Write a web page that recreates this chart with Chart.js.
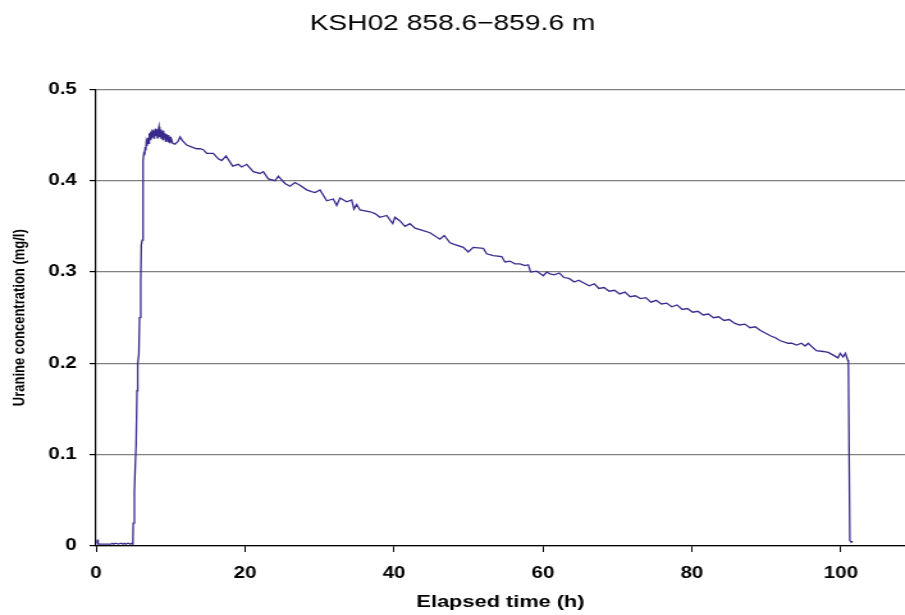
<!DOCTYPE html>
<html lang="en">
<head>
  <meta charset="UTF-8">
  <title>KSH02 858.6-859.6 m</title>
  <script src="https://cdn.jsdelivr.net/npm/chart.js"></script>
  <style>
    body {
      margin: 0;
      padding: 0;
      background: #fff;
      overflow: hidden;
    }

    /* the plot is drawn narrow and widened, so text comes out broad */
    .chart-wrap {
      width: 707px;
      height: 615px;
      transform: scaleX(1.28);
      transform-origin: 0 0;
    }
  </style>
</head>
<body>
  <div class="chart-wrap">
    <canvas id="chartCanvas" width="707" height="615"></canvas>
  </div>

  <script>
    // elapsed time (h)
    const times = [
      0.15, 0.2, 0.25, 0.3, 0.5, 1.0, 1.5, 2.0, 2.2, 2.4, 2.6, 3.0, 3.4, 3.6, 3.8, 4.0, 4.3, 4.6, 4.8, 4.95,
      5.0, 5.15, 5.3, 5.38, 5.5, 5.6, 5.75, 5.85, 6.0, 6.08, 6.2, 6.28, 6.35,
      6.45, 6.52, 6.6, 6.68, 6.75, 6.85, 6.95, 7.05, 7.15, 7.25, 7.35, 7.45, 7.55, 7.65, 7.75, 7.85, 7.95,
      8.05, 8.15, 8.25, 8.35, 8.45, 8.55, 8.65, 8.75, 8.85, 8.95, 9.05, 9.15, 9.25, 9.35, 9.45, 9.55,
      9.65, 9.75, 9.85, 9.95, 10.1, 10.3, 10.6, 11.0, 11.28, 11.6, 12.17, 12.8, 13.5,
      13.96, 14.40, 14.86, 15.74, 16.42, 16.87, 17.45, 18.35, 19.10, 19.56, 20.23, 21.11, 22.01, 22.46,
      23.13, 24.03, 24.47, 25.37, 26.04, 26.71, 27.38, 28.28, 28.95, 29.40, 30.07, 30.97, 31.85, 32.31,
      32.75, 33.65, 34.32, 34.63, 34.99, 35.44, 36.78, 37.45, 38.12, 39.02, 39.83, 40.13, 40.81, 41.48,
      42.15, 42.82, 43.72, 44.83, 46.17, 46.75, 47.52, 48.19, 49.30, 49.97, 50.64, 51.99, 52.44, 53.33,
      54.46, 54.90, 55.57, 56.24, 56.91, 57.58, 58.03, 58.35, 59.15, 60.04, 60.50, 60.94,
      61.5, 62.2, 62.8, 63.5, 64.2, 64.8, 65.5, 66.2, 66.9, 67.5, 68.2, 68.9, 69.6, 70.3, 71.0, 71.7,
      72.4, 73.1, 73.8, 74.5, 75.2, 75.9, 76.6, 77.3, 78.0, 78.7, 79.4, 80.1, 80.8, 81.5, 82.2, 82.9,
      83.6, 84.3, 85.0, 85.7, 86.4, 87.1, 87.8, 88.5, 89.2, 89.9, 90.6, 91.2,
      91.8, 92.9, 93.4, 94.05, 94.7, 95.2, 95.6, 96.7, 97.6, 98.3, 98.97, 99.6, 99.9, 100.3, 100.6,
      100.9, 101.0, 101.2, 101.4, 101.6
    ];

    // uranine concentration (mg/l)
    const conc = [
      0.003, 0.007, 0.004, 0.002, 0.002, 0.002, 0.002, 0.002, 0.003, 0.002, 0.003, 0.002, 0.003, 0.002, 0.003, 0.002, 0.003, 0.002, 0.003, 0.002,
      0.025, 0.06, 0.095, 0.11, 0.17, 0.2, 0.21, 0.25, 0.29, 0.33, 0.335, 0.36, 0.422,
      0.432, 0.428, 0.437, 0.433, 0.442, 0.438, 0.447, 0.441, 0.452, 0.445, 0.454, 0.447, 0.456, 0.448, 0.455, 0.446, 0.457,
      0.449, 0.456, 0.447, 0.455, 0.459, 0.448, 0.456, 0.446, 0.454, 0.445, 0.455, 0.447, 0.452, 0.443, 0.451, 0.444,
      0.450, 0.442, 0.448, 0.441, 0.446, 0.441, 0.440, 0.443, 0.448, 0.444, 0.439, 0.437, 0.435,
      0.435, 0.434, 0.430, 0.430, 0.424, 0.422, 0.427, 0.416, 0.418, 0.415, 0.418, 0.410, 0.408, 0.410,
      0.402, 0.400, 0.405, 0.397, 0.394, 0.398, 0.395, 0.390, 0.388, 0.387, 0.390, 0.378, 0.380, 0.373,
      0.381, 0.377, 0.379, 0.369, 0.374, 0.368, 0.366, 0.364, 0.360, 0.362, 0.353, 0.360, 0.356, 0.350,
      0.353, 0.348, 0.346, 0.343, 0.336, 0.340, 0.332, 0.330, 0.327, 0.322, 0.327, 0.326, 0.320, 0.318,
      0.317, 0.311, 0.312, 0.309, 0.309, 0.307, 0.308, 0.300, 0.301, 0.296, 0.300, 0.298,
      0.297, 0.299, 0.294, 0.293, 0.289, 0.291, 0.288, 0.285, 0.287, 0.282, 0.283, 0.279, 0.280, 0.276, 0.278, 0.273,
      0.274, 0.271, 0.272, 0.267, 0.269, 0.265, 0.266, 0.262, 0.264, 0.259, 0.260, 0.256, 0.257, 0.253, 0.254, 0.250,
      0.251, 0.247, 0.248, 0.244, 0.242, 0.243, 0.239, 0.240, 0.236, 0.233, 0.230, 0.228,
      0.225, 0.222, 0.222, 0.220, 0.222, 0.219, 0.222, 0.214, 0.213, 0.212, 0.209, 0.206, 0.211, 0.207, 0.211,
      0.204, 0.202, 0.006, 0.004, 0.005
    ];

    const yTicks = [0, 0.1, 0.2, 0.3, 0.4, 0.5];
    const xTicks = [0, 20, 40, 60, 80, 100];

    const points = times.map((t, i) => ({ x: t, y: conc[i] }));
    const fontFamily = "'Liberation Sans', Arial, sans-serif";

    const ctx = document.getElementById("chartCanvas").getContext("2d");
    const chart = new Chart(ctx, {
      type: "line",
      data: {
        datasets: [
          {
            label: "Uranine",
            data: points,
            borderColor: "#3a2a8c",
            borderWidth: 1.3,
            pointRadius: 0,
            tension: 0,
            fill: false
          }
        ]
      },
      options: {
        responsive: false,
        animation: false,
        devicePixelRatio: 1,
        layout: { padding: { left: 0, right: 0, top: 0, bottom: 0 } },
        plugins: {
          legend: { display: false },
          tooltip: { enabled: false },
          title: {
            display: true,
            text: "KSH02 858.6\u2212859.6 m",
            color: "#000",
            font: { family: fontFamily, size: 22, weight: "normal" },
            padding: { top: 11, bottom: 52 }
          }
        },
        scales: {
          x: {
            type: "linear",
            min: 0,
            max: 108.6,
            afterFit: (scale) => { scale.height = 69; },
            afterBuildTicks: (scale) => { scale.ticks = xTicks.map(v => ({ value: v })); },
            border: { color: "#000", width: 1.2 },
            grid: {
              drawOnChartArea: false,
              drawTicks: true,
              tickLength: 6,
              tickColor: "#000"
            },
            ticks: {
              color: "#000",
              padding: 12,
              maxRotation: 0,
              font: { family: fontFamily, size: 16, weight: "bold" }
            },
            title: {
              display: true,
              text: "Elapsed time (h)",
              color: "#000",
              font: { family: fontFamily, size: 17, weight: "bold" },
              padding: { top: 0, bottom: 2 }
            }
          },
          y: {
            min: 0,
            max: 0.5,
            afterFit: (scale) => { scale.width = 75; },
            afterBuildTicks: (scale) => { scale.ticks = yTicks.map(v => ({ value: v })); },
            border: { color: "#000", width: 1.2 },
            grid: {
              color: "#808080",
              lineWidth: 1.2,
              drawTicks: true,
              tickLength: 5,
              tickColor: "#000"
            },
            ticks: {
              color: "#000",
              padding: 10,
              font: { family: fontFamily, size: 16, weight: "bold" }
            },
            title: {
              display: true,
              text: "Uranine concentration (mg/l)",
              color: "#000",
              font: { family: fontFamily, size: 13, weight: "bold" },
              padding: { top: 8, bottom: 0 }
            }
          }
        }
      }
    });
  </script>
</body>
</html>
